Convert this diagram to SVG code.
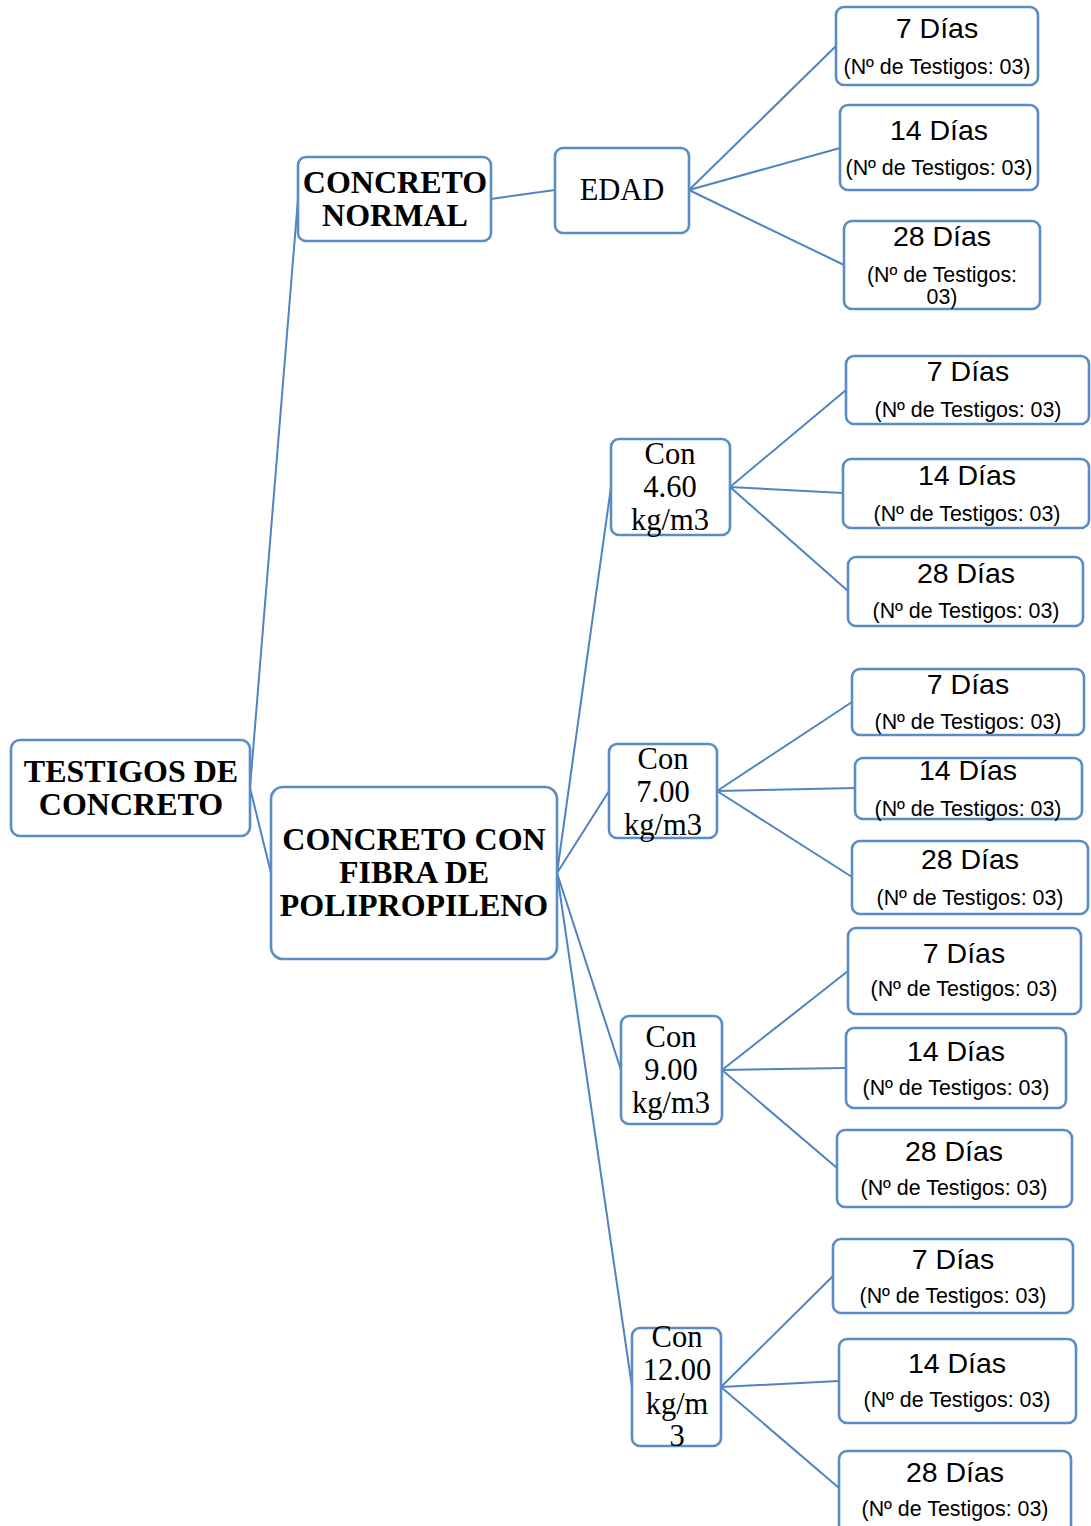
<svg xmlns="http://www.w3.org/2000/svg" width="1091" height="1526" viewBox="0 0 1091 1526">
<style>
.box{fill:#fff;stroke:#5a8cc6;stroke-width:2.6}
.ln{stroke:#4f84c0;stroke-width:2;fill:none}
.b{font-family:"Liberation Serif","Times New Roman",serif;font-weight:bold;font-size:32px;text-anchor:middle;fill:#000}
.s{font-family:"Liberation Serif","Times New Roman",serif;font-size:30.5px;text-anchor:middle;fill:#000}
.d{font-family:"Liberation Sans",Arial,sans-serif;font-size:28.5px;text-anchor:middle;fill:#000}
.n{font-family:"Liberation Sans",Arial,sans-serif;font-size:21.4px;text-anchor:middle;fill:#000}
</style>
<rect width="1091" height="1526" fill="#fff"/>
<g id="connectors" class="ln">
<path d="M250 788 L298 199 M250 788 L271 873"/>
<path d="M491 199 L555 190"/>
<path d="M689 190 L836 46 M689 190 L840 148 M689 190 L844 265"/>
<path d="M557 873 L611 487 M557 873 L609 791 M557 873 L621 1070 M557 873 L632 1387"/>
<path d="M730 487 L846 390 M730 487 L843 493 M730 487 L848 591"/>
<path d="M717 791 L852 702 M717 791 L855 788 M717 791 L852 877"/>
<path d="M722 1070 L848 971 M722 1070 L846 1068 M722 1070 L837 1168"/>
<path d="M721 1387 L833 1276 M721 1387 L839 1381 M721 1387 L839 1488"/>
</g>
<g id="root"><rect class="box" x="11" y="740" width="239" height="96" rx="9"/>
<text class="b" x="131" y="782">TESTIGOS DE</text><text class="b" x="131" y="815">CONCRETO</text></g>
<g id="normal"><rect class="box" x="298" y="157" width="193" height="84" rx="8"/>
<text class="b" x="395" y="193">CONCRETO</text><text class="b" x="395" y="226">NORMAL</text></g>
<g id="edad"><rect class="box" x="555" y="148" width="134" height="85" rx="8"/>
<text class="s" x="622" y="200">EDAD</text></g>
<g id="fibra"><rect class="box" x="271" y="787" width="286" height="172" rx="12"/>
<text class="b" x="414" y="850">CONCRETO CON</text><text class="b" x="414" y="883">FIBRA DE</text><text class="b" x="414" y="916">POLIPROPILENO</text></g>
<g id="con460"><rect class="box" x="611" y="439" width="119" height="96" rx="8"/>
<text class="s" x="670" y="464">Con</text><text class="s" x="670" y="497">4.60</text><text class="s" x="670" y="530">kg/m3</text></g>
<g id="con700"><rect class="box" x="609" y="744" width="108" height="94" rx="8"/>
<text class="s" x="663" y="769">Con</text><text class="s" x="663" y="802">7.00</text><text class="s" x="663" y="835">kg/m3</text></g>
<g id="con900"><rect class="box" x="621" y="1016" width="101" height="108" rx="8"/>
<text class="s" x="671" y="1047">Con</text><text class="s" x="671" y="1080">9.00</text><text class="s" x="671" y="1113">kg/m3</text></g>
<g id="con1200"><rect class="box" x="632" y="1328" width="89" height="118" rx="8"/>
<text class="s" x="677" y="1347">Con</text><text class="s" x="677" y="1380">12.00</text><text class="s" x="677" y="1414">kg/m</text><text class="s" x="677" y="1446">3</text></g>
<g id="n7"><rect class="box" x="836" y="7" width="202" height="78" rx="8"/>
<text class="d" x="937" y="38">7 Días</text><text class="n" x="937" y="74">(Nº de Testigos: 03)</text></g>
<g id="n14"><rect class="box" x="840" y="105" width="198" height="85" rx="8"/>
<text class="d" x="939" y="140">14 Días</text><text class="n" x="939" y="175">(Nº de Testigos: 03)</text></g>
<g id="n28"><rect class="box" x="844" y="221" width="196" height="88" rx="8"/>
<text class="d" x="942" y="246">28 Días</text><text class="n" x="942" y="282">(Nº de Testigos:</text><text class="n" x="942" y="304">03)</text></g>
<g id="a7"><rect class="box" x="846" y="356" width="243" height="68" rx="8"/>
<text class="d" x="968" y="381">7 Días</text><text class="n" x="968" y="417">(Nº de Testigos: 03)</text></g>
<g id="a14"><rect class="box" x="843" y="459" width="246" height="69" rx="8"/>
<text class="d" x="967" y="485">14 Días</text><text class="n" x="967" y="521">(Nº de Testigos: 03)</text></g>
<g id="a28"><rect class="box" x="848" y="557" width="235" height="69" rx="8"/>
<text class="d" x="966" y="583">28 Días</text><text class="n" x="966" y="618">(Nº de Testigos: 03)</text></g>
<g id="b7"><rect class="box" x="852" y="669" width="232" height="66" rx="8"/>
<text class="d" x="968" y="694">7 Días</text><text class="n" x="968" y="729">(Nº de Testigos: 03)</text></g>
<g id="b14"><rect class="box" x="855" y="758" width="227" height="61" rx="8"/>
<text class="d" x="968" y="780">14 Días</text><text class="n" x="968" y="816">(Nº de Testigos: 03)</text></g>
<g id="b28"><rect class="box" x="852" y="841" width="236" height="73" rx="8"/>
<text class="d" x="970" y="869">28 Días</text><text class="n" x="970" y="905">(Nº de Testigos: 03)</text></g>
<g id="c7"><rect class="box" x="848" y="928" width="233" height="86" rx="8"/>
<text class="d" x="964" y="963">7 Días</text><text class="n" x="964" y="996">(Nº de Testigos: 03)</text></g>
<g id="c14"><rect class="box" x="846" y="1028" width="220" height="80" rx="8"/>
<text class="d" x="956" y="1061">14 Días</text><text class="n" x="956" y="1095">(Nº de Testigos: 03)</text></g>
<g id="c28"><rect class="box" x="837" y="1130" width="235" height="77" rx="8"/>
<text class="d" x="954" y="1161">28 Días</text><text class="n" x="954" y="1195">(Nº de Testigos: 03)</text></g>
<g id="d7"><rect class="box" x="833" y="1239" width="240" height="74" rx="8"/>
<text class="d" x="953" y="1269">7 Días</text><text class="n" x="953" y="1303">(Nº de Testigos: 03)</text></g>
<g id="d14"><rect class="box" x="839" y="1339" width="237" height="84" rx="8"/>
<text class="d" x="957" y="1373">14 Días</text><text class="n" x="957" y="1407">(Nº de Testigos: 03)</text></g>
<g id="d28"><rect class="box" x="839" y="1451" width="232" height="82" rx="8"/>
<text class="d" x="955" y="1482">28 Días</text><text class="n" x="955" y="1516">(Nº de Testigos: 03)</text></g>
</svg>
